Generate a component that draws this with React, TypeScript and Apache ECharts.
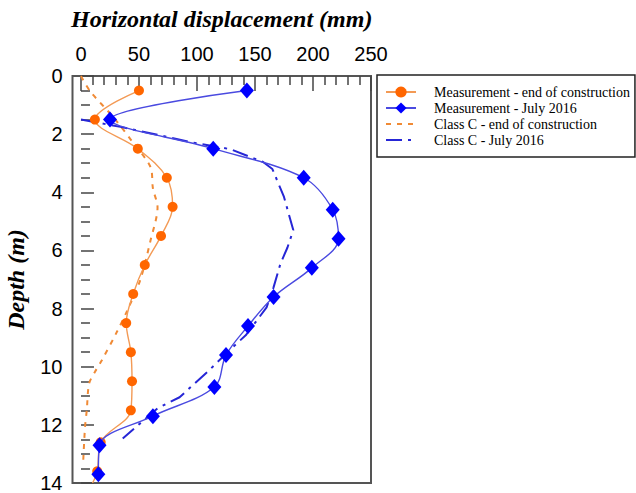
import React, { useEffect, useRef } from "react";
import * as echarts from "echarts";

// ---- data ----
const dispMajorTicks = [0, 50, 100, 150, 200, 250];
const dispMinorTicks = [10, 20, 30, 40, 60, 70, 80, 90, 110, 120, 130, 140, 160, 170, 180, 190, 210, 220, 230, 240];
const depthTicks = [0, 2, 4, 6, 8, 10, 12, 14];

const seriesNames = [
  "Measurement - end of construction",
  "Measurement - July 2016",
  "Class C - end of construction",
  "Class C - July 2016",
];

const measEndDepth = [0.5, 1.5, 2.5, 3.5, 4.5, 5.5, 6.5, 7.5, 8.5, 9.5, 10.5, 11.5, 12.6, 13.6, 14.0];
const measEndDisp = [50, 12, 49, 74, 79, 69, 55, 45, 39, 43, 44, 43, 17, 14, 10];

const measJulyDepth = [0.5, 1.5, 2.5, 3.5, 4.6, 5.6, 6.6, 7.6, 8.6, 9.6, 10.7, 11.7, 12.7, 13.7];
const measJulyDisp = [143, 25, 114, 192, 217, 222, 199, 166, 144, 125, 115, 62, 16, 15];

const classCEndDepth = [0, 0.53, 1.42, 2.3, 3.14, 3.86, 4.52, 5.65, 7.03, 8.06, 8.8, 9.78, 10.18, 10.58, 11.5, 12.07, 13.2];
const classCEndDisp = [0, 8, 28, 45, 60, 62, 66, 60, 51, 40, 31, 18, 12, 7, 5, 3.5, 2];

const classCJulyDepth = [1.5, 1.75, 2.04, 2.27, 2.52, 2.96, 3.2, 4.16, 5.3, 5.9, 6.45, 7.27, 7.96, 8.92, 9.32, 10.18, 11.05, 11.43, 12.47];
const classCJulyDisp = [0, 34, 68, 94, 129, 157, 165, 175, 183, 178, 172, 166, 160, 142, 131, 109, 85, 66, 36];

const pairs = (xs: number[], ys: number[]) => xs.map((x, i) => [x, ys[i]]);

export default function App() {
  const ref = useRef<HTMLDivElement>(null);
  useEffect(() => {
    if (!ref.current) return;
    const chart = echarts.init(ref.current, null, { renderer: "svg" });
    const measEndData: any[] = pairs(measEndDisp, measEndDepth);
    // final point only extends the line to the bottom (no visible marker)
    measEndData[measEndData.length - 1] = { value: measEndData[measEndData.length - 1], symbol: "none" };

    chart.setOption({
      animation: false,
      backgroundColor: "#fff",
      grid: {
        left: 72.5,
        top: 76,
        right: 265,
        bottom: 10,
        show: true,
        borderColor: "#555",
        borderWidth: 2,
        backgroundColor: "transparent",
      },
      legend: {
        orient: "vertical",
        left: 377,
        top: 75,
        data: [
          { name: seriesNames[0] },
          { name: seriesNames[1] },
          { name: seriesNames[2], itemStyle: { opacity: 0 } },
          { name: seriesNames[3], itemStyle: { opacity: 0 } },
        ],
        itemWidth: 30,
        itemHeight: 14,
        itemGap: 2,
        padding: [10, 5, 10, 8],
        borderColor: "#222",
        borderWidth: 1.5,
        textStyle: {
          fontFamily: "Liberation Serif",
          fontSize: 14,
          color: "#000",
          padding: [0, 0, 0, 13],
        },
      },
      xAxis: [
        {
          type: "value",
          position: "top",
          min: -7.3,
          max: 250,
          name: "Horizontal displacement (mm)",
          nameLocation: "middle",
          nameGap: 45,
          nameTextStyle: {
            fontFamily: "Liberation Serif",
            fontStyle: "italic",
            fontWeight: "bold",
            fontSize: 24,
            color: "#000",
          },
          axisLine: { show: false },
          splitLine: { show: false },
          axisTick: {
            show: true,
            inside: true,
            length: 15,
            customValues: dispMajorTicks,
            lineStyle: { color: "#444", width: 1.5 },
          },
          axisLabel: {
            customValues: dispMajorTicks,
            fontFamily: "Liberation Sans",
            fontSize: 20,
            color: "#000",
            margin: 12,
          },
        },
        {
          type: "value",
          position: "top",
          offset: 0,
          min: -7.3,
          max: 250,
          axisLine: { show: false },
          splitLine: { show: false },
          axisLabel: { show: false },
          axisTick: {
            show: true,
            inside: true,
            length: 9,
            customValues: dispMinorTicks,
            lineStyle: { color: "#444", width: 1.5 },
          },
        },
      ],
      yAxis: {
        type: "value",
        inverse: true,
        min: 0,
        max: 14,
        interval: 2,
        name: "Depth (m)",
        nameLocation: "middle",
        nameGap: 45,
        nameTextStyle: {
          fontFamily: "Liberation Serif",
          fontStyle: "italic",
          fontWeight: "bold",
          fontSize: 24,
          color: "#000",
        },
        axisLine: { show: false },
        splitLine: { show: false },
        axisTick: {
          show: true,
          inside: true,
          length: 13,
          customValues: depthTicks,
          lineStyle: { color: "#444", width: 1.5 },
        },
        minorTick: {
          show: true,
          splitNumber: 4,
          length: 9,
          lineStyle: { color: "#444", width: 1.5 },
        },
        axisLabel: {
          customValues: depthTicks,
          fontFamily: "Liberation Sans",
          fontSize: 20,
          color: "#000",
          margin: 10,
        },
      },
      series: [
        {
          name: seriesNames[2],
          type: "line",
          data: pairs(classCEndDisp, classCEndDepth),
          symbol: "none",
          smooth: 0.3,
          color: "#F08A35",
          lineStyle: { color: "#F08A35", width: 2, type: [5, 6] },
          z: 2,
        },
        {
          name: seriesNames[3],
          type: "line",
          data: pairs(classCJulyDisp, classCJulyDepth),
          symbol: "none",
          color: "#2626D6",
          lineStyle: { color: "#2626D6", width: 2, type: [16, 6, 3, 6] },
          z: 2,
        },
        {
          name: seriesNames[0],
          type: "line",
          data: measEndData,
          symbol: "circle",
          symbolSize: 10,
          smooth: 0.35,
          itemStyle: { color: "#FF6600" },
          lineStyle: { color: "#F39A55", width: 1.4 },
          z: 3,
        },
        {
          name: seriesNames[1],
          type: "line",
          data: pairs(measJulyDisp, measJulyDepth),
          symbol: "diamond",
          symbolSize: [14, 16],
          smooth: 0.35,
          itemStyle: { color: "#0000FF" },
          lineStyle: { color: "#4A4AE0", width: 1.4 },
          z: 4,
        },
      ],
    });
    return () => chart.dispose();
  }, []);
  return <div ref={ref} style={{ width: 636, height: 493, position: "absolute", left: 0, top: 0 }} />;
}
